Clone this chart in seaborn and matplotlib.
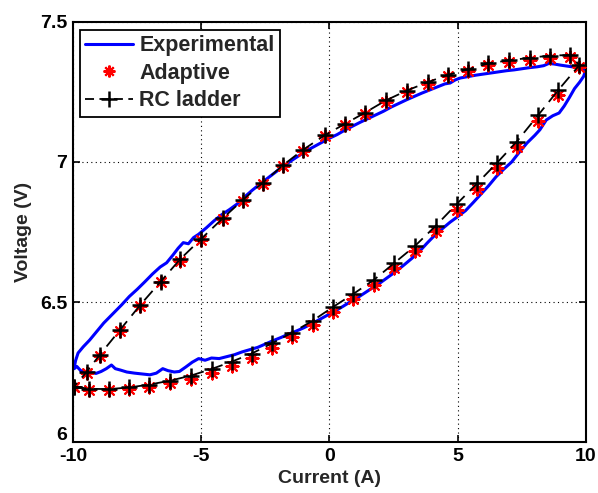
import numpy as np
import pandas as pd
import seaborn as sns
import matplotlib
matplotlib.use("Agg")
import matplotlib.pyplot as plt
import matplotlib.transforms as mtransforms
from matplotlib.lines import Line2D

# Measured voltage around one current cycle (lower branch, then upper branch)
exp_current = [
    -9.95, -9.85, -9.70, -9.50, -9.30, -9.10, -8.90, -8.70, -8.50, -8.35,
    -8.15, -7.90, -7.60, -7.30, -7.00, -6.75, -6.50, -6.30, -6.05, -5.85,
    -5.60, -5.35, -5.10, -4.85, -4.60, -4.30, -4.00, -3.70, -3.40, -3.10,
    -2.80, -2.50, -2.20, -1.90, -1.60, -1.30, -1.00, -0.70, -0.40, -0.10,
    0.20, 0.50, 0.80, 1.10, 1.40, 1.70, 2.00, 2.30, 2.60, 2.90,
    3.20, 3.50, 3.80, 4.10, 4.40, 4.70, 5.00, 5.30, 5.60, 5.90,
    6.20, 6.50, 6.80, 7.10, 7.40, 7.70, 8.00, 8.20, 8.45, 8.70,
    8.95, 9.15, 9.35, 9.55, 9.75, 9.90, 9.97,
    9.85, 9.60, 9.30, 9.00, 8.75, 8.55, 8.35, 8.10, 7.80, 7.50,
    7.20, 6.90, 6.60, 6.30, 6.00, 5.70, 5.40, 5.10, 4.90, 4.70,
    4.50, 4.20, 3.90, 3.60, 3.30, 3.00, 2.70, 2.40, 2.10, 1.80,
    1.50, 1.20, 0.90, 0.60, 0.30, 0.00, -0.30, -0.60, -0.90, -1.20,
    -1.50, -1.80, -2.10, -2.40, -2.70, -3.00, -3.30, -3.60, -3.90, -4.20,
    -4.50, -4.80, -5.10, -5.30, -5.50, -5.70, -5.90, -6.10, -6.35, -6.60,
    -6.90, -7.20, -7.50, -7.80, -8.10, -8.40, -8.80, -9.10, -9.35, -9.60,
    -9.80, -9.90, -9.95,
]
exp_voltage = [
    6.262, 6.270, 6.255, 6.250, 6.248, 6.245, 6.252, 6.262, 6.275, 6.262,
    6.257, 6.250, 6.246, 6.243, 6.240, 6.246, 6.262, 6.255, 6.250, 6.252,
    6.268, 6.285, 6.298, 6.292, 6.300, 6.298, 6.305, 6.312, 6.322, 6.330,
    6.338, 6.350, 6.362, 6.373, 6.385, 6.396, 6.408, 6.422, 6.437, 6.452,
    6.467, 6.483, 6.500, 6.516, 6.534, 6.552, 6.570, 6.590, 6.610, 6.632,
    6.655, 6.680, 6.710, 6.738, 6.762, 6.785, 6.805, 6.826, 6.855, 6.885,
    6.915, 6.948, 6.975, 7.000, 7.035, 7.068, 7.095, 7.115, 7.150, 7.165,
    7.175, 7.200, 7.230, 7.262, 7.285, 7.305, 7.322,
    7.335, 7.338, 7.342, 7.346, 7.350, 7.352, 7.344, 7.340, 7.337, 7.333,
    7.329, 7.326, 7.322, 7.318, 7.314, 7.310, 7.305, 7.300, 7.293, 7.282,
    7.279, 7.268, 7.257, 7.246, 7.234, 7.222, 7.209, 7.196, 7.181, 7.168,
    7.155, 7.142, 7.128, 7.114, 7.098, 7.085, 7.070, 7.055, 7.040, 7.022,
    7.004, 6.985, 6.964, 6.943, 6.922, 6.900, 6.876, 6.850, 6.830, 6.812,
    6.790, 6.765, 6.742, 6.730, 6.708, 6.712, 6.692, 6.668, 6.640, 6.625,
    6.600, 6.572, 6.545, 6.520, 6.490, 6.462, 6.425, 6.392, 6.364, 6.340,
    6.318, 6.290, 6.265,
]

# Model sample points around the same cycle
model_current = [
    -9.96, -9.36, -8.58, -7.80, -7.03, -6.22, -5.41, -4.59, -3.81, -3.03,
    -2.25, -1.47, -0.66, 0.15, 0.93, 1.73, 2.51, 3.33, 4.14, 4.96,
    5.76, 6.54, 7.30, 8.14, 8.92, 9.74,
    9.38, 8.60, 7.80, 6.99, 6.19, 5.41, 4.61, 3.83, 3.01, 2.20,
    1.38, 0.60, -0.18, -1.04, -1.82, -2.60, -3.36, -4.16, -5.02, -5.83,
    -6.58, -7.38, -8.16, -8.95, -9.47, -9.96,
]
rc_voltage = [
    6.198, 6.190, 6.189, 6.195, 6.205, 6.219, 6.237, 6.261, 6.287, 6.316,
    6.352, 6.390, 6.433, 6.483, 6.529, 6.579, 6.638, 6.700, 6.772, 6.850,
    6.924, 6.998, 7.073, 7.168, 7.257, 7.346,
    7.382, 7.380, 7.372, 7.363, 7.352, 7.331, 7.311, 7.285, 7.255, 7.220,
    7.176, 7.136, 7.096, 7.043, 6.988, 6.926, 6.866, 6.799, 6.724, 6.652,
    6.573, 6.489, 6.401, 6.312, 6.250, 6.198,
]
adaptive_voltage = [
    6.196, 6.186, 6.186, 6.190, 6.198, 6.209, 6.226, 6.248, 6.272, 6.300,
    6.335, 6.374, 6.418, 6.466, 6.512, 6.562, 6.620, 6.682, 6.752, 6.828,
    6.902, 6.978, 7.055, 7.148, 7.240, 7.338,
    7.375, 7.372, 7.364, 7.357, 7.346, 7.326, 7.306, 7.280, 7.250, 7.215,
    7.172, 7.132, 7.093, 7.040, 6.985, 6.922, 6.862, 6.796, 6.720, 6.648,
    6.570, 6.486, 6.398, 6.308, 6.246, 6.196,
]

x_ticks = [-10, -5, 0, 5, 10]
y_ticks = [6, 6.5, 7, 7.5]
y_ticklabels = ["6", "6.5", "7", "7.5"]

exp_df = pd.DataFrame({"Current": exp_current, "Voltage": exp_voltage})
model_df = pd.DataFrame({"Current": model_current, "RC": rc_voltage,
                         "Adaptive": adaptive_voltage})

sns.set_style("ticks")
plt.rcParams["font.family"] = ["Liberation Sans", "DejaVu Sans"]
plt.rcParams["font.weight"] = "bold"

FS = 14
LEG_FS = 15.5

fig = plt.figure(figsize=(5.98, 4.93), dpi=100)
ax = fig.add_axes([0.122, 0.1034, 0.858, 0.852])

sns.lineplot(data=exp_df, x="Current", y="Voltage", sort=False, estimator=None,
             color="#0000ff", linewidth=2.2, ax=ax, zorder=2)
sns.scatterplot(data=model_df, x="Current", y="Adaptive", marker=(8, 2, 0),
                s=75, color="red", edgecolor="red", linewidth=1.5, ax=ax, zorder=3)
sns.lineplot(data=model_df, x="Current", y="RC", sort=False, estimator=None,
             color="black", linewidth=1.3, ax=ax, zorder=4,
             marker="+", markersize=11, markeredgewidth=1.8,
             markeredgecolor="black", markerfacecolor="black")
ax.lines[-1].set_dashes([7, 4])

ax.set_xlim(-10, 10)
ax.set_ylim(6, 7.5)
ax.set_xticks(x_ticks)
ax.set_xticklabels([str(t) for t in x_ticks])
ax.set_yticks(y_ticks)
ax.set_yticklabels(y_ticklabels)
ax.tick_params(direction="in", length=5, width=1.2, top=True, right=True,
               labelsize=FS, colors="black")
ax.tick_params(axis="x", pad=4)
ax.tick_params(axis="y", pad=4)
for lbl in ax.get_xticklabels() + ax.get_yticklabels():
    lbl.set_fontweight("bold")
# lift the bottom y label clear of the x labels
lowest = ax.get_yticklabels()[0]
lowest.set_transform(lowest.get_transform() +
                     mtransforms.ScaledTranslation(0, 6 / 72, fig.dpi_scale_trans))
for sp in ax.spines.values():
    sp.set_visible(True)
    sp.set_linewidth(1.5)
    sp.set_color("black")
ax.grid(True, linestyle=(0, (1, 3)), color="black", linewidth=0.8)

ax.set_xlabel("Current (A)", fontsize=FS, fontweight="bold", labelpad=4)
ax.set_ylabel("Voltage (V)", fontsize=FS, fontweight="bold", labelpad=6)

handles = [
    Line2D([], [], color="#0000ff", linewidth=2.2),
    Line2D([], [], color="red", linestyle="none", marker=(8, 2, 0),
           markersize=8.5, markeredgewidth=1.5),
    Line2D([], [], color="black", linewidth=1.3, dashes=[5, 3], marker="+",
           markersize=11, markeredgewidth=1.8),
]
leg = ax.legend(handles, ["Experimental", "Adaptive", "RC ladder"],
                loc="upper left", bbox_to_anchor=(0.0136, 0.981),
                prop={"weight": "bold", "size": LEG_FS},
                frameon=True, fancybox=False, edgecolor="black",
                framealpha=1, handlelength=2.2, handletextpad=0.3,
                borderpad=0.25, labelspacing=0.3, borderaxespad=0)
leg.get_frame().set_linewidth(1.3)

fig.savefig("out.png", dpi=100)
